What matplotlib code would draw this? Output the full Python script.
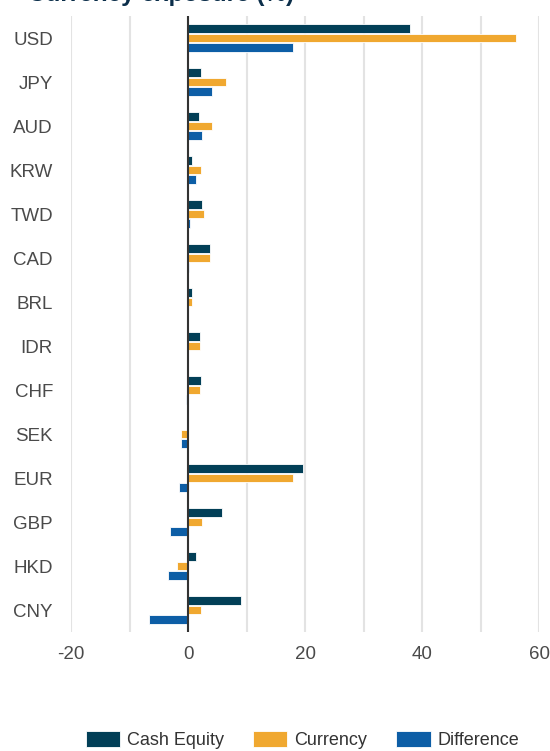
import matplotlib
matplotlib.use("Agg")
import matplotlib.pyplot as plt
import numpy as np

plt.rcParams['font.family'] = ['Liberation Sans', 'DejaVu Sans']

categories = ["USD", "JPY", "AUD", "KRW", "TWD", "CAD", "BRL", "IDR", "CHF", "SEK", "EUR", "GBP", "HKD", "CNY"]
cash_equity = [38.0, 2.2, 1.8, 0.7, 2.4, 3.7, 0.7, 2.0, 2.2, 0.0, 19.6, 5.8, 1.4, 9.0]
currency = [56.0, 6.5, 4.1, 2.2, 2.8, 3.7, 0.7, 2.0, 2.0, -1.2, 17.9, 2.4, -1.9, 2.3]
difference = [17.9, 4.1, 2.4, 1.4, 0.3, 0.1, -0.1, -0.1, -0.3, -1.2, -1.5, -3.0, -3.5, -6.7]
series_names = ["Cash Equity", "Currency", "Difference"]
colors = ["#023f57", "#f0a830", "#0d5ea6"]
xticks = [-20, 0, 20, 40, 60]

W, H = 550, 751
fig = plt.figure(figsize=(W/100, H/100), dpi=100)
ax = fig.add_axes([71/W, 1-632/H, (539-71)/W, (632-16)/H])

y = np.arange(len(categories))
bh = 0.2
off = 0.215
for i, (vals, name, c) in enumerate(zip([cash_equity, currency, difference], series_names, colors)):
    ax.barh(y + (i-1)*off, vals, height=bh, color=c, edgecolor='white', linewidth=0.6, label=name, zorder=3)

ax.set_xlim(-20, 60)
ax.set_ylim(len(categories)-0.5, -0.5)
ax.set_yticks(y)
ax.set_yticklabels(categories)
ax.set_xticks(xticks)
ax.set_xticklabels([str(t) for t in xticks])
for gx in np.arange(-20, 61, 10):
    ax.axvline(gx, color='#e3e3e3', linewidth=1.5, zorder=1)
ax.axvline(0, color='#333333', linewidth=1.5, zorder=4)
for s in ax.spines.values():
    s.set_visible(False)
ax.tick_params(axis='both', length=0, labelsize=13.5, labelcolor='#4a4a4a')
ax.tick_params(axis='y', pad=13)
ax.tick_params(axis='x', pad=10)

fig.text(28/W, 1-1/H, "Currency exposure (%)", ha='left', va='baseline', fontsize=17.5, fontweight='bold', color='#0b2e4a')

fig.legend(loc='center', bbox_to_anchor=(0.55, 1-740/H), ncol=3, frameon=False,
           fontsize=13, handlelength=1.9, handleheight=1.0, handletextpad=0.4,
           columnspacing=1.6, labelcolor='#333333')

fig.savefig("out.png", dpi=100)
